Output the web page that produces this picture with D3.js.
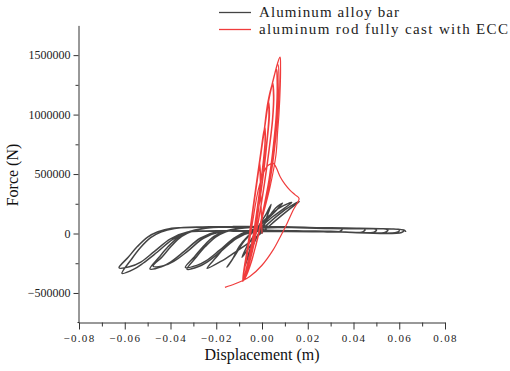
<!DOCTYPE html>
<html>
<head>
<meta charset="utf-8">
<script src="https://cdn.jsdelivr.net/npm/d3@7"></script>
<style>
  body { margin: 0; background: #fff; }
</style>
</head>
<body>
<div id="chart"></div>
<script>
var width = 510, height = 371;
var serif = "'Liberation Serif', 'Times New Roman', serif";

// series names
var seriesNames = ["Aluminum alloy bar", "aluminum rod fully cast with ECC"];

// axis ticks
var xTicks = [-0.08, -0.06, -0.04, -0.02, 0, 0.02, 0.04, 0.06, 0.08];
var xMinor = [-0.07, -0.05, -0.03, -0.01, 0.01, 0.03, 0.05, 0.07];
var yTicks = [-500000, 0, 500000, 1000000, 1500000];
var yMinor = [-250000, 250000, 750000, 1250000];

// displacement (m), force (N) - aluminum alloy bar
var alloyBar = [
  [0,0],[0.002,130000],[0.004,245000],
  [0.002,170000],[-0.002,40000],[-0.005,-120000],[-0.0074,-267000],
  [-0.0055,-170000],[-0.002,-20000],[0.002,110000],[0.006,215000],[0.009,255000],
  [0.006,190000],[0.0,80000],[-0.006,-20000],[-0.010,-110000],[-0.013,-220000],[-0.0153,-283000],
  [-0.012,-190000],[-0.008,-70000],[-0.003,30000],[0.002,130000],[0.008,220000],[0.013,262000],
  [0.010,215000],[0.004,130000],[-0.002,20000],[-0.006,-90000],[-0.0087,-200000],
  [-0.005,-100000],[0.001,50000],[0.008,170000],[0.0125,230000],[0.0163,268000],
  [0.012,205000],[0.006,110000],[0.0,10000],[-0.006,-80000],[-0.012,-160000],[-0.018,-235000],[-0.024,-292000],
  [-0.020,-200000],[-0.016,-110000],[-0.0115,-30000],[-0.007,15000],[-0.001,42000],[0.011,52000],[0.025,45000],[0.035,38000],
  [0.034,18000],[0.02,22000],[0.005,26000],[-0.003,18000],[-0.011,-40000],[-0.018,-150000],[-0.024,-240000],[-0.028,-280000],[-0.0328,-300000],
  [-0.0288,-200000],[-0.0248,-110000],[-0.0203,-30000],[-0.0158,15000],[-0.0098,42000],[0.002,55000],[0.02,50000],[0.045,34000],
  [0.044,14000],[0.03,18000],[0.01,24000],[-0.003,22000],[-0.0115,-30000],[-0.0185,-140000],[-0.0245,-230000],[-0.0285,-268000],[-0.0335,-285000],
  [-0.0295,-195000],[-0.0255,-105000],[-0.021,-25000],[-0.0165,18000],[-0.0105,45000],[0.0015,58000],[0.025,48000],[0.05,32000],
  [0.049,12000],[0.03,17000],[0.01,22000],[-0.01,24000],[-0.019,20000],[-0.027,-40000],[-0.034,-150000],[-0.040,-240000],[-0.044,-280000],[-0.049,-298000],
  [-0.045,-200000],[-0.041,-110000],[-0.0365,-30000],[-0.032,15000],[-0.026,42000],[-0.014,55000],[0.01,55000],[0.03,45000],[0.055,31000],
  [0.054,11000],[0.03,16000],[0.0,21000],[-0.012,20000],[-0.0176,16000],[-0.0256,-40000],[-0.0326,-150000],[-0.0386,-235000],[-0.0426,-268000],[-0.0476,-275000],
  [-0.0436,-195000],[-0.0396,-105000],[-0.0351,-25000],[-0.0306,18000],[-0.0246,45000],[-0.0126,58000],[0.01,55000],[0.035,42000],[0.060,28000],
  [0.059,10000],[0.03,15000],[0.0,20000],[-0.025,22000],[-0.0312,15000],[-0.039,-50000],[-0.046,-160000],[-0.052,-250000],[-0.056,-300000],[-0.0612,-335000],
  [-0.0572,-220000],[-0.0532,-120000],[-0.0487,-35000],[-0.0442,12000],[-0.0382,42000],[-0.026,55000],[0.0,57000],[0.03,44000],[0.062,27000],
  [0.061,9000],[0.03,14000],[0.0,20000],[-0.025,20000],[-0.0325,12000],[-0.040,-45000],[-0.047,-150000],[-0.053,-240000],[-0.058,-280000],[-0.0625,-288000],
  [-0.0585,-200000],[-0.0545,-110000],[-0.050,-30000],[-0.0455,15000],[-0.0395,45000],[-0.0275,52000],[0.0,54000],[0.03,42000],[0.0625,25000],[0.0628,12000]
];

// displacement (m), force (N) - aluminum rod fully cast with ECC
var eccRod = [
  [0,0],[-0.0005,300000],[-0.0010,600000],
  [-0.0006,450000],[-0.0015,200000],[-0.004,-100000],[-0.0065,-300000],[-0.0083,-393000],
  [-0.0068,-200000],[-0.0055,0],[-0.003,350000],[-0.0005,690000],[0.0010,880000],
  [0.0013,780000],[0.0005,600000],[-0.0015,300000],[-0.0042,-50000],[-0.0068,-290000],[-0.0083,-395000],
  [-0.0067,-170000],[-0.0053,20000],[-0.0026,390000],[0.0004,790000],[0.0012,900000],
  [0.0015,800000],[0.0007,620000],[-0.0013,320000],[-0.0040,-40000],[-0.0067,-285000],[-0.0083,-395000],
  [-0.0066,-160000],[-0.0052,30000],[-0.0025,400000],[0.0005,800000],[0.0026,1105000],
  [0.0030,1000000],[0.0022,800000],[0.0005,500000],[-0.002,150000],[-0.0048,-150000],[-0.0072,-330000],[-0.0084,-398000],
  [-0.0066,-150000],[-0.0051,40000],[-0.0023,420000],[0.0006,820000],[0.0028,1110000],
  [0.0033,1010000],[0.0025,820000],[0.0008,520000],[-0.0018,170000],[-0.0046,-140000],[-0.0071,-325000],[-0.0084,-398000],
  [-0.0065,-140000],[-0.0050,60000],[-0.0022,440000],[0.0008,850000],[0.0026,1110000],[0.0045,1250000],
  [0.0050,1150000],[0.0045,950000],[0.003,700000],[0.001,420000],[-0.0015,120000],[-0.0045,-170000],[-0.0070,-340000],[-0.0084,-400000],
  [-0.0065,-140000],[-0.0050,55000],[-0.0021,450000],[0.0009,860000],[0.0027,1115000],[0.0047,1265000],
  [0.0052,1160000],[0.0047,960000],[0.0032,710000],[0.0012,430000],[-0.0013,130000],[-0.0043,-160000],[-0.0069,-335000],[-0.0084,-400000],
  [-0.0064,-130000],[-0.0049,70000],[-0.0020,460000],[0.0010,870000],[0.0030,1130000],[0.0062,1370000],
  [0.0066,1250000],[0.0062,1000000],[0.005,750000],[0.003,450000],[0.0,150000],[-0.003,-120000],[-0.0062,-320000],[-0.0084,-402000],
  [-0.0064,-120000],[-0.0048,80000],[-0.0019,470000],[0.0011,880000],[0.0032,1150000],[0.0064,1380000],
  [0.0068,1260000],[0.0065,1020000],[0.0053,760000],[0.0033,460000],[0.0003,160000],[-0.0028,-110000],[-0.0061,-315000],[-0.0084,-400000],
  [-0.0064,-125000],[-0.0048,75000],[-0.0020,465000],[0.0010,875000],[0.0031,1140000],[0.0070,1420000],
  [0.0074,1320000],[0.0071,1080000],[0.0060,800000],[0.0040,500000],[0.0008,190000],[-0.0025,-90000],[-0.0060,-310000],[-0.0084,-400000],
  [-0.0063,-110000],[-0.0047,90000],[-0.0018,480000],[0.0012,890000],[0.0035,1170000],[0.0079,1484000],
  [0.0081,1400000],[0.0080,1250000],[0.0074,1000000],[0.0068,850000],[0.0061,660000],[0.0035,390000],[-0.0009,54000],[-0.0044,-225000],[-0.0075,-380000],[-0.0083,-395000],
  [-0.0066,-200000],[-0.0045,50000],[-0.0012,400000],[0.0020,560000],[0.0040,588000],[0.0050,590000],[0.0062,555000],[0.0080,475000],[0.0100,415000],[0.0122,365000],[0.0145,325000],[0.0162,296000],
  [0.0136,195000],[0.0110,87000],[0.0079,-31000],[0.0048,-140000],[0.0,-267000],[-0.0052,-360000],[-0.0083,-395000],[-0.0120,-425000],[-0.0162,-453000]
];

var seriesColors = ["#444444", "#f03c3c"];

var svg = d3.select("#chart").append("svg")
    .attr("width", width)
    .attr("height", height);

var x = d3.scaleLinear().domain([-0.08, 0.08]).range([79, 445]);
var y = d3.scaleLinear().domain([-750000, 1750000]).range([322.7, 25.4]);

var line = d3.line()
    .x(function(d) { return x(d[0]); })
    .y(function(d) { return y(d[1]); })
    .curve(d3.curveCatmullRom.alpha(0.5));

// curves
svg.append("path")
  .datum(alloyBar)
  .attr("fill", "none")
  .attr("stroke", seriesColors[0])
  .attr("stroke-width", 1.5)
  .attr("d", line);

svg.append("path")
  .datum(eccRod)
  .attr("fill", "none")
  .attr("stroke", seriesColors[1])
  .attr("stroke-width", 1.2)
  .attr("d", line);

// x axis
var gx = svg.append("g")
  .attr("transform", "translate(0,322.5)")
  .call(d3.axisBottom(x).tickValues(xTicks).tickSize(7).tickSizeOuter(0).tickPadding(5)
        .tickFormat(d3.format(".2f")));
gx.selectAll("text")
  .attr("font-family", serif)
  .attr("font-size", 11)
  .attr("letter-spacing", 1.3)
  .attr("fill", "#222");
svg.append("g")
  .attr("transform", "translate(0,322.5)")
  .call(d3.axisBottom(x).tickValues(xMinor).tickSize(4).tickFormat(""))
  .select(".domain").remove();
svg.append("line")
  .attr("x1", 77.5).attr("x2", 79).attr("y1", 322.5).attr("y2", 322.5)
  .attr("stroke", "#333");

// y axis
var gy = svg.append("g")
  .attr("transform", "translate(78.5,0)")
  .call(d3.axisLeft(y).tickValues(yTicks).tickSize(5).tickSizeOuter(0).tickPadding(3)
        .tickFormat(d3.format("d")));
gy.selectAll("text")
  .attr("font-family", serif)
  .attr("font-size", 12)
  .attr("fill", "#222");
svg.append("g")
  .attr("transform", "translate(78.5,0)")
  .call(d3.axisLeft(y).tickValues(yMinor).tickSize(3).tickFormat(""))
  .select(".domain").remove();

svg.selectAll(".domain, .tick line").attr("stroke", "#333");

// axis titles
svg.append("text")
  .attr("x", 262).attr("y", 360)
  .attr("text-anchor", "middle")
  .attr("font-family", serif)
  .attr("font-size", 16)
  .attr("fill", "#111")
  .text("Displacement (m)");

svg.append("text")
  .attr("transform", "translate(18,175) rotate(-90)")
  .attr("text-anchor", "middle")
  .attr("font-family", serif)
  .attr("font-size", 16)
  .attr("fill", "#111")
  .text("Force (N)");

// legend
var legendWidths = [140, 249];
var legend = svg.selectAll(".legend")
    .data(seriesNames)
  .enter().append("g")
  .attr("class", "legend")
  .attr("transform", function(d, i) { return "translate(219," + (12.5 + i * 17) + ")"; });

legend.append("line")
  .attr("x1", 0).attr("x2", 32)
  .attr("stroke", function(d, i) { return seriesColors[i]; })
  .attr("stroke-width", 1.3);

legend.append("text")
  .attr("x", 40).attr("y", 4.5)
  .attr("font-family", serif)
  .attr("font-size", 15)
  .attr("fill", "#222")
  .attr("textLength", function(d, i) { return legendWidths[i]; })
  .attr("lengthAdjust", "spacing")
  .text(function(d) { return d; });
</script>
</body>
</html>
